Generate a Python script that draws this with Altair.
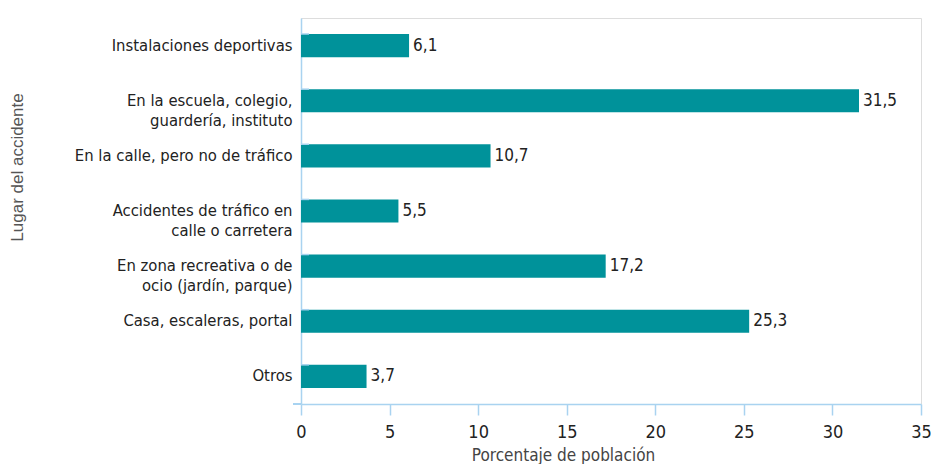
import altair as alt
import pandas as pd

categories = [
    "Instalaciones deportivas",
    "En la escuela, colegio,|guardería, instituto",
    "En la calle, pero no de tráfico",
    "Accidentes de tráfico en|calle o carretera",
    "En zona recreativa o de|ocio (jardín, parque)",
    "Casa, escaleras, portal",
    "Otros",
]
values = [6.1, 31.5, 10.7, 5.5, 17.2, 25.3, 3.7]
x_ticks = [0, 5, 10, 15, 20, 25, 30, 35]

df = pd.DataFrame({"cat": categories, "v": values})

FONT = "'Liberation Sans Narrow', 'DejaVu Sans Condensed', 'Roboto Condensed', sans-serif"
AXIS_COL = "#A9D3F0"
BAR_COL = "#00929A"
TXT = "#222222"

W, H = 620, 386

y_enc = alt.Y(
    "cat:N",
    sort=categories,
    scale=alt.Scale(paddingInner=0.58, paddingOuter=0.29),
    axis=alt.Axis(
        title="Lugar del accidente",
        titleFont="Liberation Sans",
        titleFontSize=17,
        titleFontWeight="normal",
        titleColor="#555555",
        titleAngle=-90,
        titleX=-284,
        titleY=149,
        titleAlign="center",
        titleBaseline="middle",
        labelExpr="split(datum.label, '|')",
        labelFont=FONT,
        labelFontSize=16.5,
        labelColor=TXT,
        labelPadding=9,
        labelLineHeight=20,
        labelLimit=400,
        ticks=False,
        domainColor=AXIS_COL,
        domainWidth=1.5,
    ),
)

x_enc = alt.X(
    "v:Q",
    scale=alt.Scale(domain=[0, 35], nice=False),
    axis=alt.Axis(
        values=x_ticks,
        title="Porcentaje de población",
        titleFont=FONT,
        titleFontSize=17,
        titleFontWeight="normal",
        titleColor="#444444",
        titleX=262,
        titleY=51,
        titleAlign="center",
        titleBaseline="middle",
        labelFont=FONT,
        labelFontSize=18,
        labelColor=TXT,
        labelPadding=8,
        labelFlush=False,
        tickSize=11,
        tickColor=AXIS_COL,
        tickWidth=1.5,
        domainColor=AXIS_COL,
        domainWidth=1.5,
        grid=False,
    ),
)

bars = alt.Chart(df).mark_bar(color=BAR_COL).encode(x=x_enc, y=y_enc)

labels = alt.Chart(df).transform_calculate(
    lab="replace(format(datum.v, '.1f'), '.', ',')"
).mark_text(
    align="left", baseline="middle", dx=4, font=FONT, fontSize=17, color=TXT
).encode(
    x="v:Q", y=alt.Y("cat:N", sort=categories), text="lab:N"
)

yticks = alt.Chart(df).mark_rule(color=AXIS_COL, strokeWidth=1.5).encode(
    y=alt.Y("cat:N", sort=categories, bandPosition=0),
    x=alt.value(0),
    x2=alt.value(8),
)

xext = alt.Chart(df).mark_rule(color=AXIS_COL, strokeWidth=1.5).encode(
    x=alt.value(-8), x2=alt.value(0), y=alt.value(H)
)

chart = alt.layer(bars, labels, yticks, xext).properties(
    width=W,
    height=H,
    autosize=alt.AutoSizeParams(type="none"),
    padding={"left": 293, "top": 10, "right": 10, "bottom": 60},
).configure_view(stroke=None).configure(background="white")

chart.save("out.html", embed_options={"renderer": "svg", "actions": False})
